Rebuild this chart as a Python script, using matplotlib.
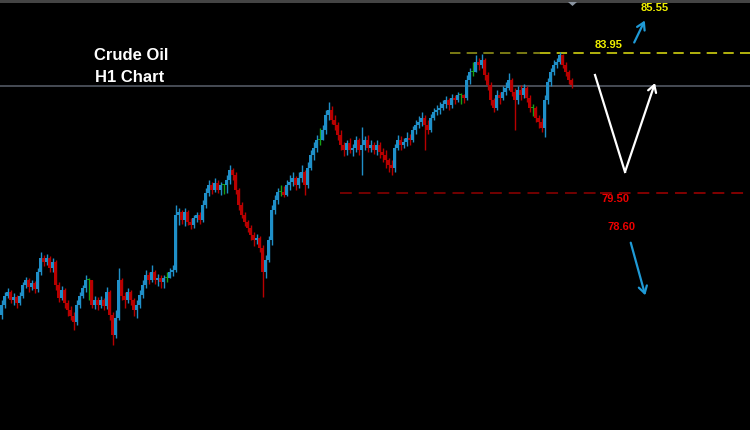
import numpy as np
import matplotlib
matplotlib.use("Agg")
import matplotlib.pyplot as plt
from matplotlib.patches import Polygon, Rectangle

plt.rcParams['lines.scale_dashes'] = False

# ---------------- data (Crude Oil, H1) ----------------
first_open = 75.62
closes = [
    75.94, 76.23, 76.35, 76.10, 76.19, 76.00, 76.23, 76.58, 76.74, 76.51,
    76.64, 76.45, 76.99, 77.43, 77.31, 77.43, 77.12, 77.31, 76.58, 76.16,
    76.42, 76.00, 75.78, 75.59, 75.40, 75.94, 76.23, 76.48, 76.74, 76.74,
    75.94, 76.10, 75.94, 76.10, 75.91, 76.35, 75.62, 74.99, 75.53, 76.74,
    76.23, 76.10, 76.35, 76.10, 75.78, 75.94, 76.26, 76.58, 76.89, 76.74,
    76.99, 76.74, 76.80, 76.67, 76.80, 76.80, 76.99, 77.05, 78.80, 78.90,
    78.64, 78.90, 78.58, 78.48, 78.71, 78.80, 78.64, 79.12, 79.50, 79.75,
    79.60, 79.82, 79.60, 79.75, 79.75, 79.91, 80.23, 80.07, 79.60, 79.12,
    78.80, 78.58, 78.39, 78.17, 78.01, 78.07, 77.75, 76.99, 77.37, 78.01,
    78.96, 79.28, 79.53, 79.53, 79.44, 79.75, 79.85, 79.98, 79.75, 79.98,
    80.17, 79.75, 80.30, 80.71, 80.93, 81.19, 81.19, 81.50, 81.98, 82.14,
    81.82, 81.66, 81.34, 81.03, 80.87, 81.09, 80.87, 80.93, 81.19, 80.87,
    81.03, 81.19, 80.93, 81.03, 80.87, 81.03, 80.80, 80.71, 80.55, 80.39,
    80.30, 80.93, 81.19, 81.03, 81.12, 81.25, 81.19, 81.50, 81.66, 81.76,
    81.89, 81.66, 81.50, 81.89, 82.08, 82.14, 82.20, 82.33, 82.46, 82.30,
    82.52, 82.46, 82.62, 82.62, 82.52, 83.09, 83.35, 83.35, 83.66, 83.57,
    83.73, 83.25, 82.93, 82.46, 82.20, 82.62, 82.52, 82.71, 82.84, 83.09,
    82.71, 82.46, 82.77, 82.62, 82.84, 82.52, 82.20, 82.20, 81.89, 81.76,
    81.57, 82.46, 83.03, 83.35, 83.57, 83.66, 83.89, 83.57, 83.35, 83.09,
    82.93,
]
highs = [
    76.10, 76.35, 76.48, 76.42, 76.32, 76.26, 76.35, 76.67, 76.83, 76.80,
    76.74, 76.70, 77.12, 77.62, 77.53, 77.56, 77.50, 77.43, 77.37, 76.67,
    76.54, 76.48, 76.10, 75.91, 75.72, 76.10, 76.35, 76.58, 76.89, 76.80,
    76.35, 76.23, 76.19, 76.23, 76.16, 76.51, 76.42, 75.72, 75.78, 77.12,
    76.80, 76.35, 76.48, 76.42, 76.16, 76.10, 76.42, 76.74, 77.05, 76.99,
    77.21, 77.05, 76.93, 76.89, 76.89, 76.99, 77.12, 77.21, 79.12, 79.02,
    78.96, 79.02, 78.96, 78.71, 78.80, 78.90, 78.90, 79.28, 79.66, 79.91,
    79.85, 79.98, 79.91, 79.85, 79.79, 80.07, 80.39, 80.30, 80.17, 79.66,
    79.21, 78.90, 78.64, 78.48, 78.26, 78.20, 78.13, 77.85, 77.53, 78.13,
    79.12, 79.44, 79.66, 79.75, 79.72, 79.91, 80.07, 80.17, 80.04, 80.17,
    80.39, 80.23, 80.49, 80.87, 81.12, 81.34, 81.57, 81.66, 82.14, 82.39,
    82.27, 81.98, 81.76, 81.50, 81.12, 81.19, 81.25, 81.06, 81.31, 81.25,
    81.60, 81.31, 81.34, 81.19, 81.12, 81.19, 81.12, 80.93, 80.87, 80.61,
    80.55, 81.06, 81.34, 81.31, 81.25, 81.44, 81.38, 81.63, 81.82, 81.95,
    82.08, 81.98, 81.82, 82.01, 82.20, 82.30, 82.39, 82.46, 82.58, 82.52,
    82.65, 82.62, 82.71, 82.68, 82.65, 83.25, 83.47, 83.66, 83.89, 83.79,
    83.92, 83.79, 83.35, 83.03, 82.52, 82.77, 82.71, 82.90, 83.03, 83.31,
    83.16, 82.84, 82.90, 82.93, 82.97, 82.90, 82.62, 82.33, 82.27, 81.98,
    81.89, 82.62, 83.16, 83.47, 83.73, 83.79, 83.98, 83.92, 83.66, 83.41,
    83.16,
]
lows = [
    75.50, 75.85, 76.16, 76.00, 75.94, 75.85, 75.94, 76.16, 76.48, 76.35,
    76.42, 76.32, 76.35, 76.89, 77.18, 77.21, 76.99, 76.99, 76.42, 76.04,
    76.10, 75.85, 75.59, 75.46, 75.15, 75.30, 75.85, 76.16, 76.35, 76.10,
    75.85, 75.81, 75.78, 75.85, 75.78, 75.81, 75.46, 74.67, 74.89, 75.46,
    76.10, 75.85, 76.00, 75.94, 75.59, 75.53, 75.85, 76.16, 76.48, 76.61,
    76.67, 76.61, 76.54, 76.48, 76.48, 76.67, 76.80, 76.86, 76.99, 78.48,
    78.52, 78.45, 78.48, 78.36, 78.39, 78.58, 78.52, 78.58, 79.02, 79.40,
    79.47, 79.53, 79.50, 79.44, 79.47, 79.50, 79.79, 79.91, 79.47, 78.96,
    78.71, 78.45, 78.26, 78.01, 77.82, 77.88, 77.62, 76.19, 76.80, 77.31,
    77.85, 78.83, 79.15, 79.40, 79.37, 79.40, 79.60, 79.72, 79.60, 79.66,
    79.85, 79.44, 79.66, 80.23, 80.55, 80.80, 81.03, 81.25, 81.38, 81.82,
    81.69, 81.50, 81.19, 80.87, 80.68, 80.71, 80.77, 80.68, 80.80, 80.71,
    80.07, 80.87, 80.80, 80.80, 80.74, 80.71, 80.61, 80.49, 80.30, 80.17,
    80.07, 80.17, 80.87, 80.87, 80.93, 80.99, 81.03, 81.12, 81.38, 81.57,
    81.63, 80.87, 81.38, 81.44, 81.82, 81.98, 82.01, 82.14, 82.20, 82.14,
    82.20, 82.33, 82.39, 82.33, 82.36, 82.46, 82.97, 83.22, 83.35, 83.41,
    83.47, 83.09, 82.77, 82.30, 82.08, 82.14, 82.33, 82.46, 82.62, 82.77,
    82.58, 81.50, 82.33, 82.46, 82.52, 82.39, 82.08, 81.95, 81.76, 81.57,
    81.44, 81.28, 82.33, 82.90, 83.25, 83.47, 83.60, 83.47, 83.22, 82.97,
    82.84,
]
opens = [first_open] + closes[:-1]

current_price = 82.90
resistance, target_up = 83.95, 85.55
support, target_down = 79.50, 78.60
title_lines = ["Crude Oil", "H1 Chart"]

# ---------------- figure ----------------
W, H = 750, 430
fig = plt.figure(figsize=(W / 100, H / 100), dpi=100, facecolor="black")
ax = fig.add_axes([0, 0, 1, 1], facecolor="black")
ax.set_axis_off()

n = len(closes)
idx = np.arange(n)
o = np.array(opens); c = np.array(closes)
hi = np.array(highs); lo = np.array(lows)

UP, DN, EQ = "#1f8fc8", "#b80000", "#16a016"
cols = np.where(c > o, UP, np.where(c < o, DN, EQ))

ax.vlines(idx, np.minimum(lo, np.minimum(o, c)), np.maximum(hi, np.maximum(o, c)),
          colors=cols, linewidth=1.0, zorder=3)
body_bot = np.minimum(o, c)
body_h = np.maximum(np.abs(c - o), 0.04)
ax.bar(idx, body_h, bottom=body_bot, width=0.85, color=cols, linewidth=0, zorder=4)

ax.set_xlim(-0.5, W / 3 - 0.5)
ax.set_ylim(85.635 - H / 31.46, 85.635)

# level lines
ax.axhline(current_price, color="#5a606c", linewidth=1.1, zorder=2)
ax.axhline(resistance, xmin=0.60, xmax=0.72, color="#8f8f18", linewidth=1.2,
           dashes=(7.5, 4.5), zorder=2)
ax.axhline(resistance, xmin=0.72, xmax=1.0, color="#d0d010", linewidth=1.2,
           dashes=(7.5, 4.5), zorder=2)
ax.axhline(support, xmin=0.453, xmax=0.80, color="#900000", linewidth=1.1,
           dashes=(8.5, 5), zorder=2)
ax.axhline(support, xmin=0.80, xmax=1.0, color="#a40000", linewidth=1.1,
           dashes=(8.5, 5), zorder=2)

lbl = dict(fontfamily="Liberation Sans", fontweight="bold", fontsize=8,
           textcoords="offset pixels", ha="center", va="center", zorder=6)
xpix = ax.transData.inverted()
def xdata(px):
    return xpix.transform((px, 0))[0]
def ydata(py):
    return xpix.transform((0, H - py))[1]

ax.annotate(f"{resistance:.2f}", (xdata(609), resistance), xytext=(0, 8), color="#f0f000", **lbl)
ax.annotate(f"{target_up:.2f}", (xdata(655), target_up), xytext=(0, -5), color="#f0f000", **lbl)
ax.annotate(f"{support:.2f}", (xdata(616), support), xytext=(0, -6), color="#ee0000", **lbl)
ax.annotate(f"{target_down:.2f}", (xdata(621), target_down), xytext=(0, -6), color="#ee0000", **lbl)

# title text
fig.text(131 / W, 1 - 56 / H, title_lines[0], color="white", fontsize=12,
         fontweight="bold", fontfamily="Liberation Sans", ha="center", va="center")
fig.text(130 / W, 1 - 77 / H, title_lines[1], color="white", fontsize=12,
         fontweight="bold", fontfamily="Liberation Sans", ha="center", va="center")

# arrows (figure pixel coordinates, origin bottom-left)
def fp(x, y):
    return (x, H - y)

ax.annotate("", xy=fp(646, 18), xytext=fp(633, 45), xycoords="figure pixels",
            textcoords="figure pixels",
            arrowprops=dict(arrowstyle="->,head_length=0.5,head_width=0.3",
                            color="#1f9ad6", lw=1.6))
ax.annotate("", xy=fp(646, 298), xytext=fp(630, 240), xycoords="figure pixels",
            textcoords="figure pixels",
            arrowprops=dict(arrowstyle="->,head_length=0.5,head_width=0.3",
                            color="#1f9ad6", lw=1.6))
# white V
ax.plot([xdata(595), xdata(625)], [ydata(75), ydata(172)],
        color="white", lw=1.6, zorder=6)
ax.annotate("", xy=fp(655, 83), xytext=fp(625, 172), xycoords="figure pixels",
            textcoords="figure pixels",
            arrowprops=dict(arrowstyle="->,head_length=0.5,head_width=0.3",
                            color="white", lw=1.6, shrinkA=0, shrinkB=0))

# top strip and marker
fig.patches.append(Rectangle((0, H - 2.5), W, 2.5, transform=None,
                             facecolor="#444444", edgecolor="none"))
fig.patches.append(Polygon([(568, H - 2), (577, H - 2), (572.5, H - 6)], closed=True,
                           transform=None, facecolor="#8a94a0", edgecolor="none"))

fig.savefig("out.png", dpi=100, facecolor="black")
